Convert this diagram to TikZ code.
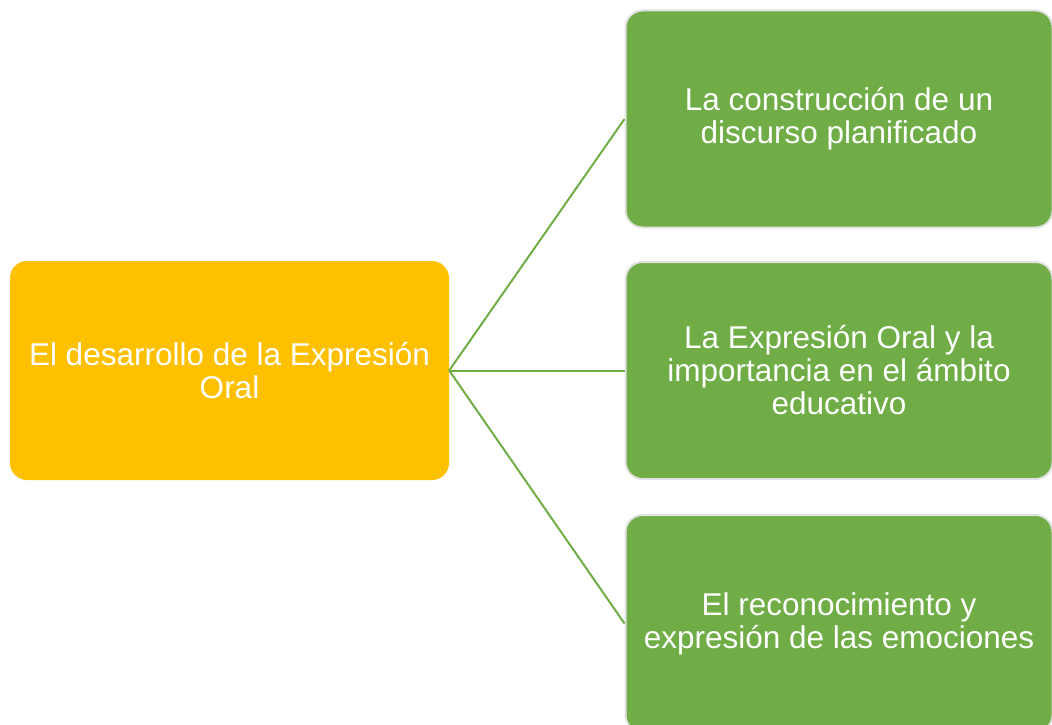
\documentclass[tikz,border=0pt]{standalone}
\usepackage{fontspec}
\setmainfont{Liberation Sans}
\definecolor{oro}{HTML}{FFC000}
\definecolor{verde}{HTML}{70AD47}
\definecolor{borde}{HTML}{E2E2E2}
\tikzset{
  tema/.style={rectangle, rounded corners=17pt, fill=oro, text=white,
    minimum width=439pt, minimum height=219pt, align=center,
    font=\fontsize{31.5}{33}\selectfont},
  subtema/.style={rectangle, rounded corners=17pt, fill=verde, draw=borde,
    line width=2pt, text=white, minimum width=427pt, minimum height=217pt,
    align=center, font=\fontsize{31.5}{33}\selectfont},
  rama/.style={draw=verde, line width=2pt}
}
\begin{document}
\begin{tikzpicture}[x=1pt, y=-1pt]
    \useasboundingbox (0, 0) rectangle (1052, 725);
    \clip (0, 0) rectangle (1052, 725);
    % tema central
    \node[tema] (oral) at (229.5, 370.5) {El desarrollo de la Expresión\\Oral};
    % subtemas
    \node[subtema] (discurso) at (839, 119) {La construcción de un\\discurso planificado};
    \node[subtema] (educacion) at (839, 370.5) {La Expresión Oral y la\\importancia en el ámbito\\educativo};
    \node[subtema] (emociones) at (839, 623.5) {El reconocimiento y\\expresión de las emociones};
    % ramas
    \draw[rama] (oral.east) -- (discurso.west);
    \draw[rama] (oral.east) -- (educacion.west);
    \draw[rama] (oral.east) -- (emociones.west);
\end{tikzpicture}
\end{document}
